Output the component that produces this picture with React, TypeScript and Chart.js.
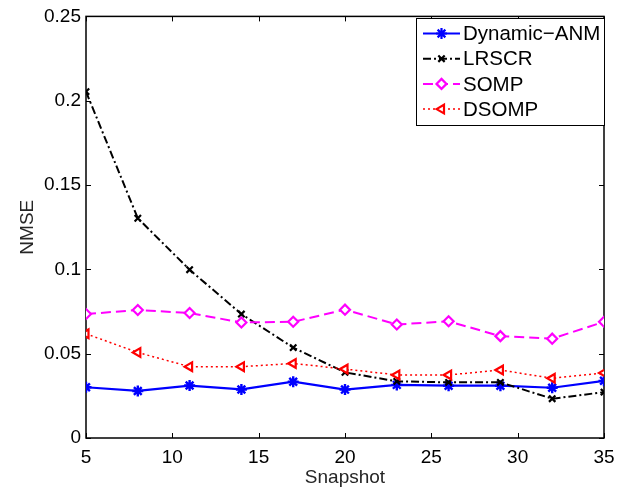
import React, { useEffect, useRef } from 'react';
import { Chart, registerables } from 'chart.js';

Chart.register(...registerables);

const snapshots = [5, 8, 11, 14, 17, 20, 23, 26, 29, 32, 35];
const dynamicANM = [0.0301, 0.0279, 0.0311, 0.0288, 0.0334, 0.0287, 0.0315, 0.031, 0.031, 0.0298, 0.0339];
const lrscr = [0.2054, 0.1303, 0.0998, 0.0735, 0.0536, 0.0389, 0.0336, 0.033, 0.033, 0.0233, 0.0272];
const somp = [0.0735, 0.0759, 0.0741, 0.0685, 0.0689, 0.0761, 0.0673, 0.0692, 0.0604, 0.0589, 0.0689];
const dsomp = [0.0618, 0.0507, 0.0423, 0.0423, 0.0442, 0.0409, 0.0374, 0.0374, 0.0403, 0.0354, 0.0386];
const seriesNames = ['Dynamic\u2212ANM', 'LRSCR', 'SOMP', 'DSOMP'];
const xTicks = [5, 10, 15, 20, 25, 30, 35];
const yTicks = [0, 0.05, 0.1, 0.15, 0.2, 0.25];
const yTickLabels = ['0', '0.05', '0.1', '0.15', '0.2', '0.25'];

const FONT = '"Liberation Sans", Arial, Helvetica, sans-serif';

function drawMarker(ctx: CanvasRenderingContext2D, style: string, x: number, y: number, r: number, color: string, fill: string, lw: number) {
  ctx.save();
  ctx.setLineDash([]);
  ctx.strokeStyle = color;
  ctx.fillStyle = fill;
  ctx.lineWidth = lw;
  ctx.beginPath();
  if (style === 'star') {
    ctx.moveTo(x - r, y); ctx.lineTo(x + r, y);
    ctx.moveTo(x, y - r); ctx.lineTo(x, y + r);
    const d = r * 0.707;
    ctx.moveTo(x - d, y - d); ctx.lineTo(x + d, y + d);
    ctx.moveTo(x - d, y + d); ctx.lineTo(x + d, y - d);
    ctx.stroke();
  } else if (style === 'crossRot') {
    const d = r * 0.707;
    ctx.moveTo(x - d, y - d); ctx.lineTo(x + d, y + d);
    ctx.moveTo(x - d, y + d); ctx.lineTo(x + d, y - d);
    ctx.stroke();
  } else if (style === 'rectRot') {
    ctx.moveTo(x, y - r); ctx.lineTo(x + r, y); ctx.lineTo(x, y + r); ctx.lineTo(x - r, y); ctx.closePath();
    ctx.fill(); ctx.stroke();
  } else if (style === 'triLeft') {
    ctx.moveTo(x - r, y); ctx.lineTo(x + r * 0.5, y - r * 0.866); ctx.lineTo(x + r * 0.5, y + r * 0.866); ctx.closePath();
    ctx.fill(); ctx.stroke();
  }
  ctx.restore();
}

const framePlugin = {
  id: 'frame',
  beforeDatasetsDraw(chart: any) {
    const { ctx, chartArea, scales } = chart;
    const { left, right, top, bottom } = chartArea;
    ctx.save();
    ctx.strokeStyle = '#000';
    ctx.lineWidth = 1.5;
    ctx.strokeRect(left, top, right - left, bottom - top);
    ctx.lineWidth = 1;
    const tl = 5;
    xTicks.forEach((v) => {
      const px = Math.round(scales.x.getPixelForValue(v)) + 0.5;
      ctx.beginPath();
      ctx.moveTo(px, bottom); ctx.lineTo(px, bottom - tl);
      ctx.moveTo(px, top); ctx.lineTo(px, top + tl);
      ctx.stroke();
    });
    yTicks.forEach((v) => {
      const py = Math.round(scales.y.getPixelForValue(v)) + 0.5;
      ctx.beginPath();
      ctx.moveTo(left, py); ctx.lineTo(left + tl, py);
      ctx.moveTo(right, py); ctx.lineTo(right - tl, py);
      ctx.stroke();
    });
    ctx.restore();
  },
};

const markerStyles = ['star', 'crossRot', 'rectRot', 'triLeft'];
const markerSizes = [5.5, 4.5, 5, 5];

const legendPlugin = {
  id: 'customLegend',
  afterDatasetsDraw(chart: any) {
    const { ctx } = chart;
    const bx = 416.5, by = 18.5, bw = 188, bh = 107;
    ctx.save();
    ctx.fillStyle = '#fff';
    ctx.fillRect(bx, by, bw, bh);
    ctx.strokeStyle = '#000';
    ctx.lineWidth = 1;
    ctx.strokeRect(bx, by, bw, bh);
    chart.data.datasets.forEach((ds: any, i: number) => {
      const y = 33.5 + i * 25.2;
      ctx.save();
      ctx.strokeStyle = ds.borderColor;
      ctx.lineWidth = ds.borderWidth;
      ctx.setLineDash(ds.borderDash || []);
      ctx.beginPath();
      ctx.moveTo(423, y);
      ctx.lineTo(460, y);
      ctx.stroke();
      ctx.restore();
      drawMarker(ctx, markerStyles[i], 441.5, y, markerSizes[i], ds.borderColor, ds.pointBackgroundColor, 2.2);
      ctx.fillStyle = '#000';
      ctx.font = `20.5px ${FONT}`;
      ctx.textBaseline = 'middle';
      ctx.textAlign = 'left';
      ctx.fillText(ds.label, 463, y + 1);
    });
    ctx.restore();
  },
};

export default function App() {
  const ref = useRef<HTMLCanvasElement | null>(null);

  useEffect(() => {
    if (!ref.current) return;
    Chart.defaults.font.family = FONT;
    const mk = (arr: number[]) => snapshots.map((s, i) => ({ x: s, y: arr[i] }));
    const chart = new Chart(ref.current, {
      type: 'line',
      data: {
        datasets: [
          {
            label: seriesNames[0], data: mk(dynamicANM), borderColor: '#0000ff', borderWidth: 2.2,
            pointStyle: 'star', pointRadius: 5.5, pointBorderWidth: 2.4, pointBackgroundColor: '#0000ff',
            pointBorderColor: '#0000ff', order: 4,
          },
          {
            label: seriesNames[1], data: mk(lrscr), borderColor: '#000000', borderWidth: 2, borderDash: [8, 3, 2, 3],
            pointStyle: 'crossRot', pointRadius: 4.5, pointBorderWidth: 2.2, pointBackgroundColor: '#000000',
            pointBorderColor: '#000000', order: 3,
          },
          {
            label: seriesNames[2], data: mk(somp), borderColor: '#ff00ff', borderWidth: 2, borderDash: [10, 5],
            pointStyle: 'rectRot', pointRadius: 5, pointBorderWidth: 2.2, pointBackgroundColor: '#ffffff',
            pointBorderColor: '#ff00ff', order: 2,
          },
          {
            label: seriesNames[3], data: mk(dsomp), borderColor: '#ff0000', borderWidth: 1.5, borderDash: [2, 3],
            pointStyle: 'triangle', pointRotation: -90, pointRadius: 5, pointBorderWidth: 2.2,
            pointBackgroundColor: '#ffffff', pointBorderColor: '#ff0000', order: 1,
          },
        ] as any,
      },
      options: {
        animation: false,
        responsive: false,
        layout: { padding: { left: 0, right: 31, top: 12, bottom: 0 } },
        plugins: { legend: { display: false }, tooltip: { enabled: false } },
        scales: {
          x: {
            type: 'linear', min: 5, max: 35,
            afterBuildTicks: (s: any) => { s.ticks = xTicks.map((v) => ({ value: v })); },
            afterFit: (s: any) => { s.height = 51; },
            ticks: { font: { size: 19 }, color: '#000', padding: 8, maxRotation: 0, callback: (v: any) => String(v) },
            grid: { display: false, drawTicks: false },
            border: { display: false },
            title: { display: true, text: 'Snapshot', font: { size: 19 }, color: '#262626', padding: { top: 0, bottom: 0 } },
          },
          y: {
            type: 'linear', min: 0, max: 0.25,
            afterBuildTicks: (s: any) => { s.ticks = yTicks.map((v) => ({ value: v })); },
            afterFit: (s: any) => { s.width = 86; },
            ticks: { font: { size: 19 }, color: '#000', padding: 5, callback: (_v: any, i: number) => yTickLabels[i] },
            grid: { display: false, drawTicks: false },
            border: { display: false },
            title: { display: true, text: 'NMSE', font: { size: 19 }, color: '#262626', padding: { top: 16, bottom: 0 } },
          },
        },
      } as any,
      plugins: [framePlugin, legendPlugin],
    });
    return () => chart.destroy();
  }, []);

  return (
    <div style={{ position: 'absolute', left: 0, top: 0, width: 635, height: 489, background: '#fff' }}>
      <canvas ref={ref} width={635} height={489} style={{ display: 'block' }} />
    </div>
  );
}
